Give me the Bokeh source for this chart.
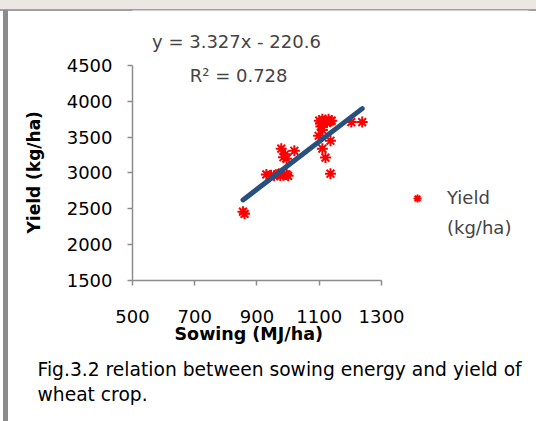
from bokeh.plotting import figure
from bokeh.models import Label, Legend, LegendItem, Range1d, FixedTicker, Title
from bokeh.embed import file_html
from bokeh.resources import INLINE

# Data
sowing_mj_ha = [855, 860, 930, 945, 955, 965, 975, 985, 995, 1000, 970,
                978, 985, 990, 1020, 995,
                1100, 1105, 1110, 1115, 1120, 1125, 1130, 1135, 1140, 1105, 1110,
                1098, 1136, 1110, 1120, 1136, 1203, 1238]
yield_kg_ha = [2460, 2430, 2980, 2970, 2960, 2975, 2960, 2970, 2980, 2960, 2990,
               3340, 3220, 3260, 3310, 3200,
               3730, 3700, 3750, 3720, 3740, 3700, 3750, 3720, 3730, 3650, 3600,
               3520, 3450, 3340, 3215, 2990, 3710, 3710]

trend_slope = 3.327
trend_intercept = -220.6
r_squared = 0.728

x_ticks = [500, 700, 900, 1100, 1300]
y_ticks = [1500, 2000, 2500, 3000, 3500, 4000, 4500]

FONT = "DejaVu Sans"
FS = "18px"

# The frame reaches past the axes' spans so the legend and equation fit in it;
# the axes themselves only cover 500-1300 and 1500-4500.
p = figure(width=536, height=421, output_backend="svg", toolbar_location=None,
           x_range=Range1d(500, 1772.3), y_range=Range1d(1500, 5267.4),
           min_border_left=132, min_border_right=8, min_border_top=10,
           min_border_bottom=141)
p.outline_line_color = None
p.xgrid.grid_line_color = None
p.ygrid.grid_line_color = None
p.background_fill_color = "white"
p.border_fill_alpha = 0
# page frame of the scanned figure: faded band on top, grey rule and left bar
p.styles = {
    "background-color": "white",
    "background-image": ("linear-gradient(#8c8c8c, #8c8c8c), "
                         "linear-gradient(#a0a0a0, #a0a0a0), "
                         "linear-gradient(#ebe8e3, #ebe8e3)"),
    "background-size": "5px 100%, 100% 2px, 100% 9px",
    "background-position": "3px 10px, 0 9px, 0 0",
    "background-repeat": "no-repeat",
}

p.xaxis.bounds = (x_ticks[0], x_ticks[-1])
p.yaxis.bounds = (y_ticks[0], y_ticks[-1])

for ax, ticks in ((p.xaxis[0], x_ticks), (p.yaxis[0], y_ticks)):
    ax.ticker = FixedTicker(ticks=ticks)
    ax.axis_line_color = "#8c8c8c"
    ax.axis_line_width = 1.5
    ax.major_tick_line_color = "#8c8c8c"
    ax.major_tick_line_width = 1.5
    ax.major_tick_in = 0
    ax.major_tick_out = 5
    ax.minor_tick_line_color = None
    ax.major_label_text_font = FONT
    ax.major_label_text_font_size = FS
    ax.major_label_text_color = "black"

p.xaxis.major_label_standoff = 24
p.yaxis.major_label_standoff = 15

# Axis titles as titles, so they sit centred on the axes' spans
ytitle = Title(text="Yield (kg/ha)", align="left", offset=47, standoff=40,
               text_font=FONT, text_font_size="17px", text_font_style="bold",
               text_color="black")
p.add_layout(ytitle, "left")
xtitle = Title(text="Sowing (MJ/ha)", align="left", offset=42, standoff=-7,
               text_font=FONT, text_font_size="17.5px", text_font_style="bold",
               text_color="black")
p.add_layout(xtitle, "below")

pts = p.scatter(sowing_mj_ha, yield_kg_ha, marker="asterisk", size=11,
                line_color="#ff0000", line_width=2)
blank = p.scatter([], [], marker="asterisk", size=11, line_alpha=0)

x0, x1 = min(sowing_mj_ha), max(sowing_mj_ha)
p.line([x0, x1], [trend_slope * x0 + trend_intercept, trend_slope * x1 + trend_intercept],
       line_color="#27507f", line_width=5, line_cap="round")

legend = Legend(items=[LegendItem(label="Yield", renderers=[pts]),
                       LegendItem(label="(kg/ha)", renderers=[blank])],
                location=(275, 42), padding=0, margin=0, spacing=9,
                border_line_color=None, background_fill_alpha=0,
                glyph_width=20, glyph_height=20, label_standoff=20,
                label_text_font=FONT, label_text_font_size=FS)
p.add_layout(legend, "center")

p.add_layout(Label(x=834, y=4835, text=f"y = {trend_slope}x - {abs(trend_intercept)}",
                   text_font=FONT, text_font_size=FS, text_align="center",
                   text_baseline="alphabetic"))
p.add_layout(Label(x=841, y=4361, text=f"R² = {r_squared}",
                   text_font=FONT, text_font_size=FS, text_align="center",
                   text_baseline="alphabetic"))

caption = Title(text="Fig.3.2 relation between sowing energy and yield of\nwheat crop.",
                align="left", offset=-95, standoff=33, text_font=FONT,
                text_font_size="18.7px", text_font_style="normal",
                text_color="black", text_line_height=1.2)
p.add_layout(caption, "below")

open("out.html", "w").write(file_html(p, INLINE))
